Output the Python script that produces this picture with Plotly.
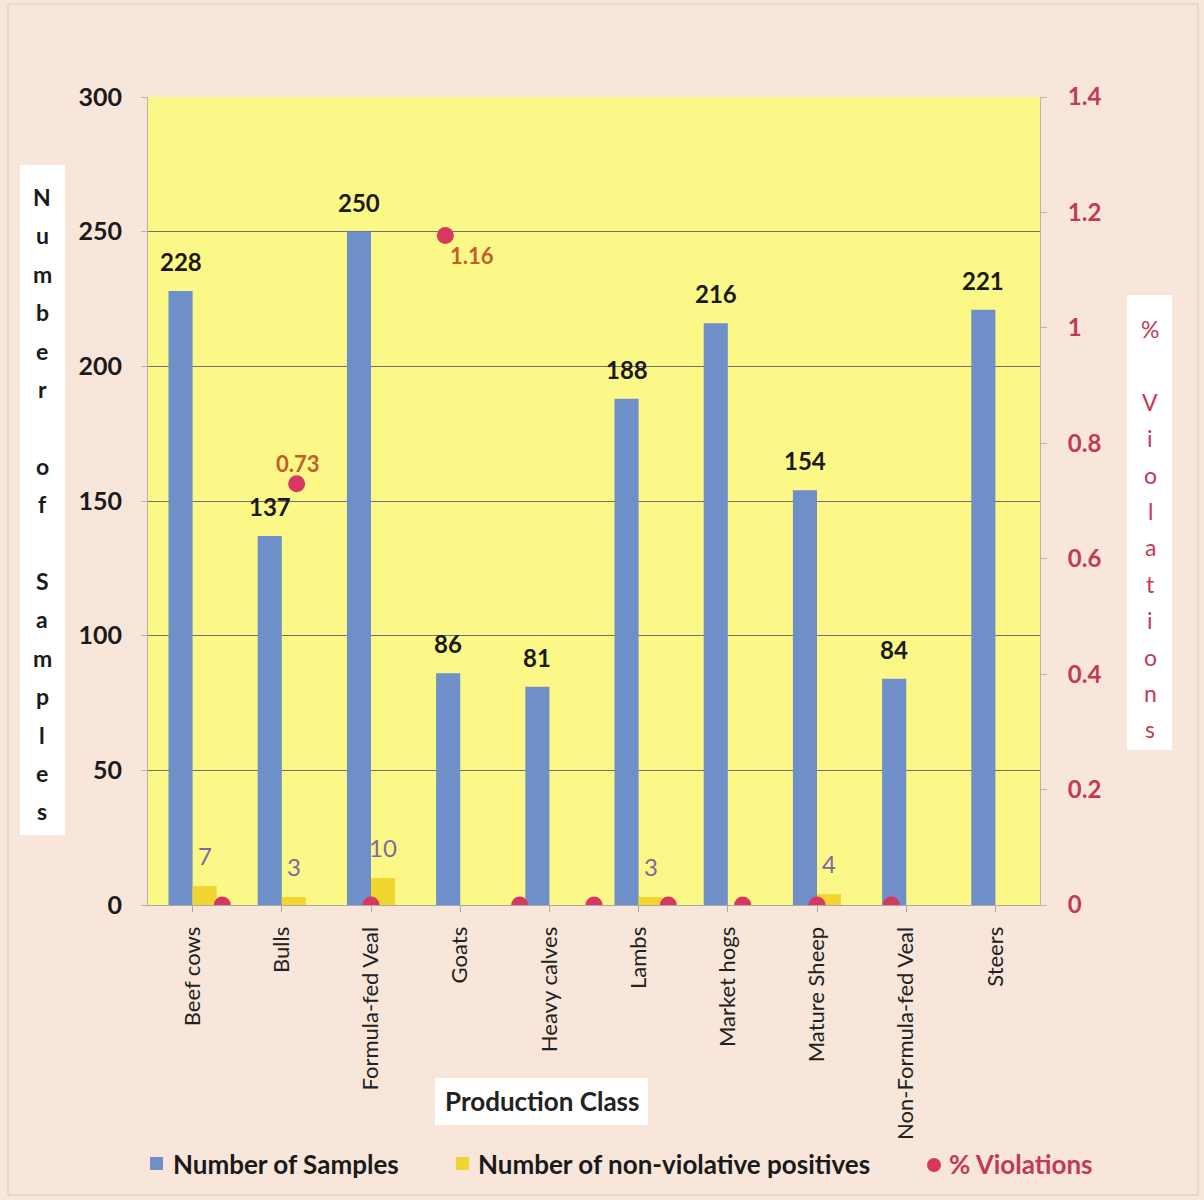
import plotly.graph_objects as go

# Residue sampling by production class
classes = ["Beef cows", "Bulls", "Formula-fed Veal", "Goats", "Heavy calves",
           "Lambs", "Market hogs", "Mature Sheep", "Non-Formula-fed Veal", "Steers"]
samples = [228, 137, 250, 86, 81, 188, 216, 154, 84, 221]
non_violative = [7, 3, 10, 0, 0, 3, 0, 4, 0, 0]
# % violations series (plotted on its own secondary category scale, 12 slots)
pct_violations = [0, 0.73, 0, 1.16, 0, 0, 0, 0, 0, 0, None]
pct_slots = list(range(1, len(pct_violations) + 1))

FONT = "Lato"
BLUE = "#6f8fc8"
YELLOW = "#f3d531"
RED = "#d8375f"
CRIMSON = "#c23a55"
PAPER = "#f8e6da"

fig = go.Figure()

fig.add_trace(go.Bar(x=classes, y=samples, name="Number of Samples",
                     marker=dict(color=BLUE, line=dict(width=0)), showlegend=False))
fig.add_trace(go.Bar(x=classes, y=non_violative, name="Number of non-violative positives",
                     marker=dict(color=YELLOW, line=dict(width=0)), showlegend=False))
fig.add_trace(go.Scatter(x=pct_slots, y=pct_violations, xaxis="x2", yaxis="y2",
                         mode="markers", name="% Violations",
                         marker=dict(color=RED, size=17), showlegend=False))

ann = []
# value labels over the blue bars
for c, v in zip(classes, samples):
    ann.append(dict(x=c, y=v, xref="x", yref="y", text=f"<b>{v}</b>", showarrow=False,
                    yanchor="bottom", yshift=13, xshift=-12,
                    font=dict(family=FONT, size=24, color="#1a1a1a")))
# value labels over the yellow bars
for c, v in zip(classes, non_violative):
    if v:
        ann.append(dict(x=c, y=v, xref="x", yref="y", text=str(v), showarrow=False,
                        yanchor="bottom", yshift=14, xshift=12,
                        font=dict(family=FONT, size=24, color="#7e6aa2")))
# labels for the non-zero violation points
for s, v in zip(pct_slots, pct_violations):
    if v:
        above = v < 1
        ann.append(dict(x=s, y=v, xref="x2", yref="y2", text=f"<b>{v:.2f}</b>",
                        showarrow=False, yanchor="middle",
                        xshift=1 if above else 27, yshift=20 if above else -20,
                        font=dict(family=FONT, size=22, color="#c25e2a")))


def px_to_paper(px, py):
    # convert page pixels to paper coordinates of the plotting area
    return (px - 148) / (1040 - 148), (905 - py) / (905 - 97)


shapes = []


def box(x0, y0, x1, y1, color="white"):
    a0, b0 = px_to_paper(x0, y1)
    a1, b1 = px_to_paper(x1, y0)
    shapes.append(dict(type="rect", xref="paper", yref="paper", x0=a0, x1=a1, y0=b0, y1=b1,
                       line=dict(width=0), fillcolor=color, layer="below"))


def stacked(text, cx, y_start, step, color, bold):
    # axis title written one letter per line
    for i, ch in enumerate(text):
        if ch == " ":
            continue
        a, b = px_to_paper(cx, y_start + i * step)
        t = f"<b>{ch}</b>" if bold else ch
        ann.append(dict(x=a, y=b, xref="paper", yref="paper", text=t, showarrow=False,
                        xanchor="center", yanchor="middle",
                        font=dict(family=FONT, size=23, color=color)))


box(20, 165, 65, 835)
stacked("Number of Samples", 42, 197, 38.4, "#1a1a1a", True)
box(1127, 295, 1172, 750)
stacked("% Violations", 1150, 329, 36.4, CRIMSON, False)

# x-axis title
box(435, 1078, 648, 1125)
a, b = px_to_paper(542, 1101)
ann.append(dict(x=a, y=b, xref="paper", yref="paper", text="<b>Production Class</b>",
                showarrow=False, xanchor="center", yanchor="middle",
                font=dict(family=FONT, size=26, color="#222")))

# legend drawn along the bottom
lx, ly = px_to_paper(150, 1157)
lx1, ly1 = px_to_paper(163, 1170)
shapes.append(dict(type="rect", xref="paper", yref="paper", x0=lx, x1=lx1, y0=ly1, y1=ly,
                   line=dict(width=0), fillcolor=BLUE))
lx, ly = px_to_paper(456, 1157)
lx1, ly1 = px_to_paper(469, 1170)
shapes.append(dict(type="rect", xref="paper", yref="paper", x0=lx, x1=lx1, y0=ly1, y1=ly,
                   line=dict(width=0), fillcolor=YELLOW))
lx, ly = px_to_paper(927, 1158)
lx1, ly1 = px_to_paper(941, 1172)
shapes.append(dict(type="circle", xref="paper", yref="paper", x0=lx, x1=lx1, y0=ly1, y1=ly,
                   line=dict(width=0), fillcolor=RED))
for px, label, col in [(171, "Number of Samples", "#1a1a1a"),
                       (476, "Number of non-violative positives", "#1a1a1a"),
                       (947, "% Violations", CRIMSON)]:
    a, b = px_to_paper(px, 1164)
    ann.append(dict(x=a, y=b, xref="paper", yref="paper", text=f"<b>{label}</b>",
                    showarrow=False, xanchor="left", yanchor="middle",
                    font=dict(family=FONT, size=26, color=col)))

# thin frame round the page
shapes.append(dict(type="rect", xref="paper", yref="paper",
                   x0=(8 - 148) / 892, x1=(1198 - 148) / 892,
                   y0=(905 - 1195) / 808, y1=(905 - 4) / 808,
                   line=dict(width=1, color="#d6ccc6"), fillcolor="rgba(0,0,0,0)", layer="below"))

fig.update_layout(
    width=1204, height=1200,
    margin=dict(l=148, r=164, t=97, b=295),
    paper_bgcolor=PAPER,
    plot_bgcolor="#fbf887",
    barmode="group", bargap=0.46, bargroupgap=0,
    font=dict(family=FONT, size=20, color="#1a1a1a"),
    xaxis=dict(tickangle=-90, tickfont=dict(family=FONT, size=22, color="#222"),
               showline=True, linecolor="#a9a9a9", ticks="outside", ticklen=6,
               tickcolor="#a9a9a9", showgrid=False, ticklabelstandoff=6),
    xaxis2=dict(overlaying="x", range=[0, 12], visible=False),
    yaxis=dict(range=[0, 300], dtick=50, showgrid=True, gridcolor="#707070", gridwidth=1,
               tickfont=dict(family=FONT, size=25, color="#1a1a1a", weight="bold"),
               showline=True, linecolor="#b5b5b5", ticks="outside", ticklen=6,
               tickcolor="#b5b5b5", zeroline=False, ticklabelstandoff=14),
    yaxis2=dict(overlaying="y", side="right", range=[0, 1.4], dtick=0.2,
                tickformat="~g", showgrid=False, zeroline=False,
                tickfont=dict(family=FONT, size=24, color=CRIMSON, weight="bold"),
                showline=True, linecolor="#b5b5b5", ticks="outside", ticklen=6,
                tickcolor="#b5b5b5", ticklabelstandoff=16),
    annotations=ann,
    shapes=shapes,
)

fig.write_html("out.html")
